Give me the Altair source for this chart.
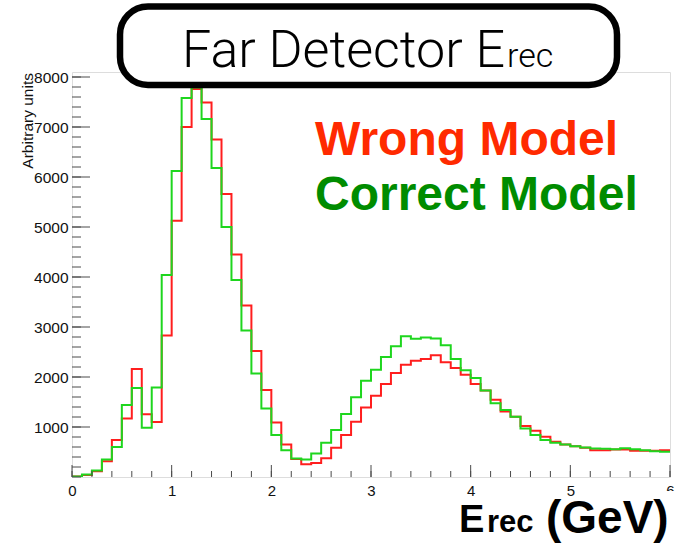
import altair as alt
import pandas as pd

# ---------------- data ----------------
bin_width = 0.1
bin_low = [round(i * bin_width, 1) for i in range(60)]  # lower bin edges, 0.0 .. 5.9

wrong_model = [10, 40, 115, 315, 740, 1170, 2160, 1255, 1100, 2830,
               5125, 7000, 7760, 7490, 6750, 5660, 4450, 3430, 2520, 1740,
               1090, 650, 360, 255, 280, 375, 583, 838, 1107, 1388,
               1623, 1858, 2079, 2247, 2327, 2361, 2435, 2294, 2180, 2046,
               1858, 1730, 1543, 1308, 1207, 1019, 926, 805, 704, 650,
               617, 583, 537, 537, 550, 550, 523, 523, 523, 537]

correct_model = [10, 50, 130, 350, 600, 1440, 1780, 985, 1790, 4040,
                 6120, 7580, 7790, 7160, 6180, 5000, 3940, 2930, 2070, 1370,
                 840, 537, 369, 350, 470, 684, 939, 1261, 1596, 1925,
                 2146, 2401, 2616, 2817, 2763, 2790, 2770, 2636, 2361, 2133,
                 1979, 1730, 1476, 1341, 1207, 972, 838, 738, 684, 650,
                 617, 590, 570, 563, 557, 577, 557, 537, 516, 503]

x_tick_labels = [0, 1, 2, 3, 4, 5, 6]
y_tick_labels = [1000, 2000, 3000, 4000, 5000, 6000, 7000, 8000]
x_minor_ticks = [round(i * 0.2, 1) for i in range(31)]
y_minor_ticks = [i * 200 for i in range(41)]

title_main = "Far Detector E"
title_sub = "rec"
legend_wrong = "Wrong Model"
legend_correct = "Correct Model"
xlabel_main = "E"
xlabel_sub = "rec"
xlabel_unit = "(GeV)"
ylabel = "Arbitrary units"

# ---------------- layout ----------------
W, H = 598, 405
XMAX = 6
YMAX = 8100
LABEL_FONT = "Liberation Sans"
FRAME = "#4a4a4a"

xs = alt.Scale(domain=[0, XMAX], nice=False, zero=False)
ys = alt.Scale(domain=[0, YMAX], nice=False, zero=True)

x_axis = alt.Axis(values=x_tick_labels, ticks=False, tickSize=0, domain=False, grid=False,
                  labelPadding=6, labelFontSize=15, labelFont=LABEL_FONT, labelColor="#111",
                  title=None, labelFlush=False, format="d")
y_axis = alt.Axis(values=y_tick_labels, ticks=False, tickSize=0, domain=False, grid=False,
                  labelPadding=4, labelFontSize=15.5, labelFont=LABEL_FONT, labelColor="#111",
                  title=None, format="d")


def hist_frame(values):
    # step-after line needs the final upper edge too
    xs_ = bin_low + [round(bin_low[-1] + bin_width, 1)]
    ys_ = values + [values[-1]]
    return pd.DataFrame({"x": xs_, "y": ys_})


def hist_layer(values, color):
    return alt.Chart(hist_frame(values)).mark_line(
        interpolate="step-after", color=color, strokeWidth=2, clip=True
    ).encode(
        x=alt.X("x:Q", scale=xs, axis=x_axis),
        y=alt.Y("y:Q", scale=ys, axis=y_axis),
    )


red_hist = hist_layer(wrong_model, "#ff1e1e")
green_hist = hist_layer(correct_model, "#1ed61e")

# inward ticks (ROOT style)
x_major = alt.Chart(pd.DataFrame({"v": x_tick_labels})).mark_rule(color=FRAME, strokeWidth=1).encode(
    x=alt.X("v:Q", scale=xs, axis=x_axis), y=alt.value(H), y2=alt.value(H - 12))
x_minor = alt.Chart(pd.DataFrame({"v": x_minor_ticks})).mark_rule(color=FRAME, strokeWidth=1).encode(
    x=alt.X("v:Q", scale=xs, axis=x_axis), y=alt.value(H), y2=alt.value(H - 6))
y_major = alt.Chart(pd.DataFrame({"v": y_tick_labels})).mark_rule(color=FRAME, strokeWidth=1).encode(
    y=alt.Y("v:Q", scale=ys, axis=y_axis), x=alt.value(0), x2=alt.value(18))
y_minor = alt.Chart(pd.DataFrame({"v": y_minor_ticks})).mark_rule(color=FRAME, strokeWidth=1).encode(
    y=alt.Y("v:Q", scale=ys, axis=y_axis), x=alt.value(0), x2=alt.value(9))

one = pd.DataFrame({"a": [0]})

# title box
title_box = alt.Chart(one).mark_rect(
    fill="white", stroke="black", strokeWidth=6.5, cornerRadius=28, clip=False
).encode(x=alt.value(48), x2=alt.value(545), y=alt.value(-65.5), y2=alt.value(13))

title_txt = alt.Chart(one).mark_text(
    text=title_main, font="Roboto", fontWeight=300, fontSize=52, align="right",
    baseline="alphabetic", color="black"
).encode(x=alt.value(433), y=alt.value(-5))
title_sub_txt = alt.Chart(one).mark_text(
    text=title_sub, font="Roboto", fontWeight=300, fontSize=34, align="left",
    baseline="alphabetic", color="black"
).encode(x=alt.value(435), y=alt.value(-5))

# legend texts
wrong_txt = alt.Chart(one).mark_text(
    text=legend_wrong, font=LABEL_FONT, fontWeight="bold", fontSize=48, align="left",
    baseline="alphabetic", color="#ff2a00"
).encode(x=alt.value(243), y=alt.value(83))
correct_txt = alt.Chart(one).mark_text(
    text=legend_correct, font=LABEL_FONT, fontWeight="bold", fontSize=48, align="left",
    baseline="alphabetic", color="#008c00"
).encode(x=alt.value(243), y=alt.value(138))

# x-axis title
xt_bg = alt.Chart(one).mark_rect(fill="white", clip=False).encode(
    x=alt.value(580), x2=alt.value(610), y=alt.value(H + 14), y2=alt.value(H + 70))
xt_main = alt.Chart(one).mark_text(
    text=xlabel_main, font=LABEL_FONT, fontWeight="bold", fontSize=38, align="left",
    baseline="alphabetic", color="black"
).encode(x=alt.value(387), y=alt.value(H + 55))
xt_sub = alt.Chart(one).mark_text(
    text=xlabel_sub, font=LABEL_FONT, fontWeight="bold", fontSize=31, align="left",
    baseline="alphabetic", color="black"
).encode(x=alt.value(415), y=alt.value(H + 55))
xt_unit = alt.Chart(one).mark_text(
    text=xlabel_unit, font=LABEL_FONT, fontWeight="bold", fontSize=46, align="left",
    baseline="alphabetic", color="black"
).encode(x=alt.value(474), y=alt.value(H + 56))

# y-axis title
yt = alt.Chart(one).mark_text(
    text=ylabel, font=LABEL_FONT, fontSize=15.5, angle=270, align="right",
    baseline="middle", color="#111"
).encode(x=alt.value(-44), y=alt.value(1))

chart = alt.layer(
    red_hist, green_hist,
    x_major, x_minor, y_major, y_minor,
    title_box, title_txt, title_sub_txt,
    wrong_txt, correct_txt,
    xt_bg, xt_main, xt_sub, xt_unit,
    yt,
).properties(
    width=W, height=H,
    autosize=alt.AutoSizeParams(type="none"),
    padding={"left": 72, "top": 72, "right": 7, "bottom": 71},
).configure_view(
    stroke=FRAME, strokeWidth=1
).configure(background="white")

chart.save("out.html", embed_options={"renderer": "svg", "actions": False})
